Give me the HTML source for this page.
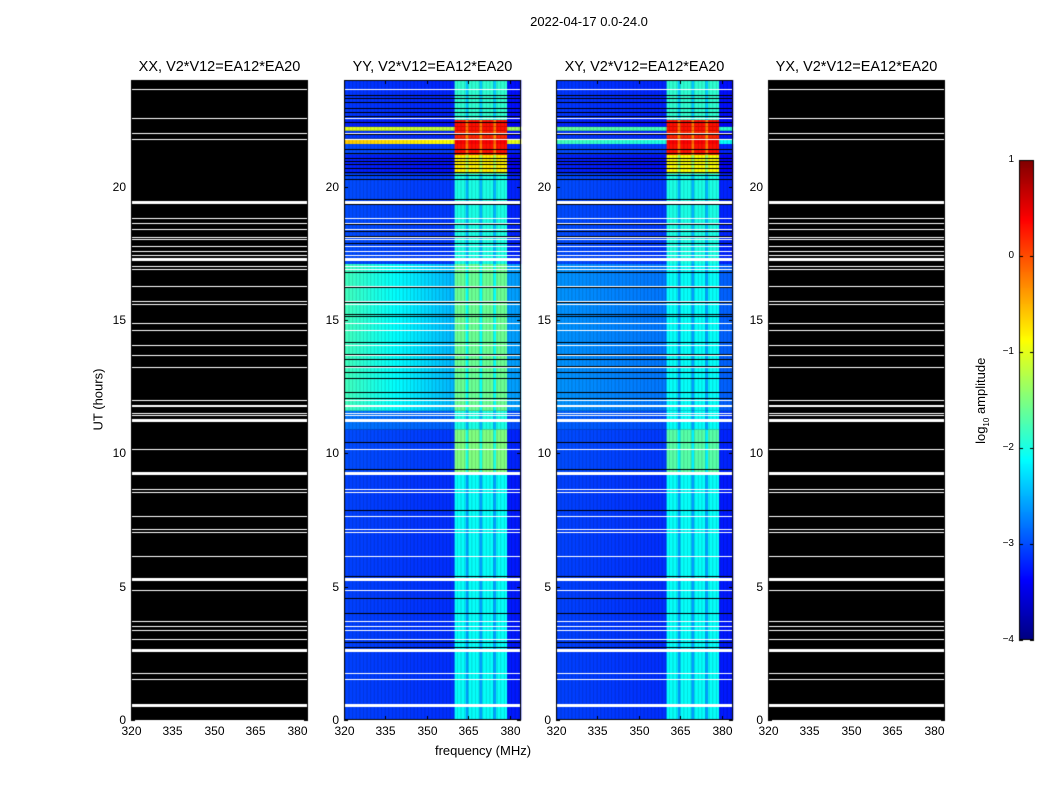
<!DOCTYPE html>
<html><head><meta charset="utf-8"><style>
body{margin:0;background:#fff;font-family:"Liberation Sans",sans-serif;}
#wrap{position:relative;width:1050px;height:800px;overflow:hidden;background:#fff}
.t{position:absolute;white-space:nowrap;color:#000}
canvas{position:absolute;left:0;top:0}
</style></head><body>
<div id="wrap">
<canvas id="cv" width="1050" height="800"></canvas>
<div class="t" style="left:489px;top:14px;width:200px;text-align:center;font-size:13px">2022-04-17 0.0-24.0</div>
<div class="t" style="left:48px;top:392px;width:100px;text-align:center;font-size:13px;transform:rotate(-90deg)">UT (hours)</div>
<div class="t" style="left:383px;top:743px;width:200px;text-align:center;font-size:13px">frequency (MHz)</div>
<div class="t" style="left:922px;top:392px;width:120px;text-align:center;font-size:13px;transform:rotate(-90deg)">log<sub style="font-size:8px">10</sub> amplitude</div>
<div id="labels"></div>
</div>
<script>
const panelTitles=["XX, V2*V12=EA12*EA20","YY, V2*V12=EA12*EA20","XY, V2*V12=EA12*EA20","YX, V2*V12=EA12*EA20"];
const panelLefts=[131,344,556,768];
const yTicks=[0,5,10,15,20];
const xTicks=[320,335,350,365,380];
const cbTicks=[1,0,-1,-2,-3,-4];
const flagHours=[23.65,22.56,21.99,21.78,19.40,18.80,18.6,18.40,18.09,18.0,17.76,17.56,17.43,17.28,16.99,16.90,16.26,15.69,15.59,14.88,14.61,14.05,13.68,13.23,11.96,11.78,11.5,11.41,11.25,10.15,9.25,8.63,8.52,7.62,7.15,7.02,6.11,5.25,4.85,3.67,3.5,3.35,3.03,2.59,1.75,1.53,0.55];
const flagWidths=[0.05,0.05,0.05,0.05,0.11,0.05,0.05,0.05,0.05,0.05,0.05,0.05,0.05,0.12,0.05,0.05,0.05,0.05,0.05,0.05,0.05,0.05,0.05,0.05,0.05,0.08,0.05,0.05,0.11,0.05,0.11,0.05,0.05,0.05,0.05,0.05,0.05,0.12,0.05,0.05,0.05,0.05,0.05,0.11,0.05,0.05,0.13];
const blackHours=[23.44,23.33,23.18,22.95,22.8,22.65,22.43,21.98,21.41,21.26,21.08,20.96,20.85,20.7,20.55,20.44,20.29,19.54,19.35,18.6,18.34,18.15,17.89,16.8,16.24,15.68,15.23,15.15,14.89,14.18,13.73,13.54,13.28,13.05,12.83,12.3,12.08,10.43,9.41,7.88,5.4,4.58,4.01,2.93,2.74];
const segStart=[0,9.3,10.9,11.6,17.1,20.5,21.2,21.6,21.8,22.1,22.25,22.5];
const segEnd=[9.3,10.9,11.6,17.1,20.5,21.2,21.6,21.8,22.1,22.25,22.5,24];
const yyOffL=[-3.05,-3.0,-2.8,-1.8,-3.0,-3.2,-3.0,-0.6,-3.1,-1.0,-3.2,-3.1];
const yyOffR=[-3.15,-3.1,-2.9,-2.5,-3.1,-3.3,-3.1,-0.9,-3.2,-1.2,-3.3,-3.2];
const yyBand=[-2.1,-1.5,-2.0,-1.6,-2.0,-0.8,0.3,0.4,0.2,0.3,0.3,-1.9];
const xyOffL=[-3.05,-3.0,-2.9,-2.65,-3.0,-3.2,-3.0,-1.8,-3.1,-1.6,-3.2,-3.1];
const xyOffR=[-3.15,-3.1,-3.0,-2.8,-3.1,-3.3,-3.1,-2.0,-3.2,-1.8,-3.3,-3.2];
const xyBand=[-2.1,-1.7,-2.1,-2.1,-2.0,-0.9,0.3,0.4,0.2,0.3,0.3,-1.9];
const bandLo=360, bandHi=379;
const notchFreqs=[364.5,369.5,374.5];
const notchDepth=0.5;

const PW=177,TOP=80,PH=640,FMIN=320,FMAX=384,VMIN=-4,VMAX=1;
const cv=document.getElementById('cv'),ctx=cv.getContext('2d');
const lab=document.getElementById('labels');
function xScale(p,f){return panelLefts[p]+(f-FMIN)*PW/(FMAX-FMIN);}
function yScale(h){return TOP+(24-h)*PH/24;}
function cl(v){return Math.max(0,Math.min(1,v));}
function jet(v){const t=cl((v-VMIN)/(VMAX-VMIN));
 const r=cl(1.5-Math.abs(4*t-3)),g=cl(1.5-Math.abs(4*t-2)),b=cl(1.5-Math.abs(4*t-1));
 return `rgb(${Math.round(r*255)},${Math.round(g*255)},${Math.round(b*255)})`;}
function addText(txt,x,y,size,align,name){const d=document.createElement('div');d.className='t';
 
 
 d.style.fontSize=size+'px';d.style.top=y+'px';
 if(align==='right'){d.style.right=(1050-x)+'px';}else if(align==='center'){d.style.left=(x-60)+'px';d.style.width='120px';d.style.textAlign='center';}else d.style.left=x+'px';
 d.textContent=txt;lab.appendChild(d);}
function cellVal(offL,offR,band,f){
 if(f>=bandLo&&f<bandHi){let v=band;for(const n of notchFreqs){if(Math.abs(f+0.25-n)<0.6)v-=notchDepth;}return v;}
 if(f>=bandHi)return offR-0.1;
 return offL+(offR-offL)*(f-FMIN)/(bandLo-FMIN);}
function drawPanel(p,offL,offR,band){
 ctx.fillStyle='#000';ctx.fillRect(panelLefts[p],TOP,PW,PH);
 if(offL){
  for(let s=0;s<segStart.length;s++){
   const y0=yScale(segEnd[s]),y1=yScale(segStart[s]);
   for(let f=FMIN;f<FMAX;f+=0.5){
    ctx.fillStyle=jet(cellVal(offL[s],offR[s],band[s],f));
    const x0=xScale(p,f);ctx.fillRect(x0,y0,xScale(p,f+0.5)-x0+0.3,y1-y0);
   }
  }
  ctx.fillStyle='#000';
  for(const h of blackHours){ctx.fillRect(panelLefts[p],Math.round(yScale(h)),PW,1);}
 }
 ctx.fillStyle='#fff';
 for(let i=0;i<flagHours.length;i++){const y=yScale(flagHours[i]+flagWidths[i]/2);ctx.fillRect(panelLefts[p],Math.round(y),PW,Math.max(1,Math.round(flagWidths[i]*PH/24)));}
 ctx.strokeStyle='#000';ctx.lineWidth=1;ctx.strokeRect(panelLefts[p]+0.5,TOP+0.5,PW-1,PH-1);
 for(const t of yTicks){const y=Math.round(yScale(t))+0.5;ctx.beginPath();ctx.moveTo(panelLefts[p],y);ctx.lineTo(panelLefts[p]+4,y);ctx.moveTo(panelLefts[p]+PW,y);ctx.lineTo(panelLefts[p]+PW-4,y);ctx.stroke();
  addText(String(t),panelLefts[p]-5,y-8,12,'right','y-tick-label');}
 for(const t of xTicks){const x=Math.round(xScale(p,t))+0.5;ctx.beginPath();ctx.moveTo(x,TOP+PH);ctx.lineTo(x,TOP+PH-4);ctx.moveTo(x,TOP);ctx.lineTo(x,TOP+4);ctx.stroke();
  addText(String(t),x,TOP+PH+4,12,'center','x-tick-label');}
 addText(panelTitles[p],panelLefts[p]+PW/2,59,14.5,'center','panel-title');
 lab.lastChild.style.width='220px';lab.lastChild.style.left=(panelLefts[p]+PW/2-110)+'px';
}
drawPanel(0,null,null,null);
drawPanel(1,yyOffL,yyOffR,yyBand);
drawPanel(2,xyOffL,xyOffR,xyBand);
drawPanel(3,null,null,null);
const CBX=1019,CBW=15,CBT=160,CBH=480;
function cbY(v){return CBT+(VMAX-v)*CBH/(VMAX-VMIN);}
for(let i=0;i<CBH;i++){ctx.fillStyle=jet(VMAX-(i+0.5)*(VMAX-VMIN)/CBH);ctx.fillRect(CBX,CBT+i,CBW,1);}
ctx.strokeStyle='#000';ctx.strokeRect(CBX+0.5,CBT+0.5,CBW-1,CBH-1);
for(const t of cbTicks){const y=Math.round(cbY(t))+0.5;ctx.beginPath();ctx.moveTo(CBX,y);ctx.lineTo(CBX+4,y);ctx.moveTo(CBX+CBW,y);ctx.lineTo(CBX+CBW-4,y);ctx.stroke();
 addText(t<0?'\u2212'+(-t):String(t),CBX-5,y-7,10,'right','colorbar-tick-label');}
</script>
</body></html>
